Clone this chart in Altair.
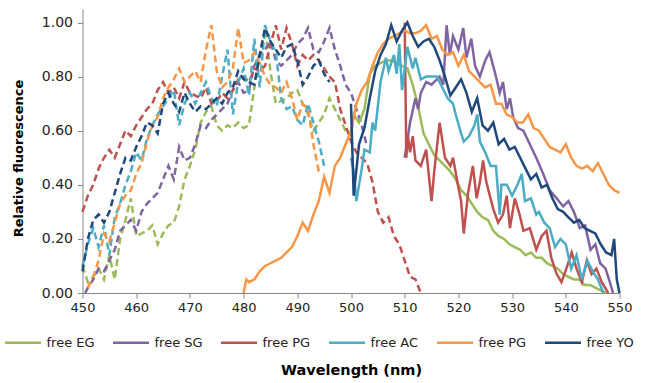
import altair as alt
import pandas as pd

KEYS = ["EG", "SG", "PG", "AC", "PG2", "YO"]
COLORS = ["#9BBB59", "#8064A2", "#C0504D", "#4BACC6", "#F79646", "#1F497D"]

# ---------------- excitation spectra (dashed) ----------------
EG_ex_wl = list(range(450, 501))
EG_ex = [0.10, 0.04, 0.06, 0.09, 0.05, 0.14, 0.05, 0.20, 0.27, 0.35,
         0.21, 0.22, 0.23, 0.25, 0.18, 0.22, 0.25, 0.26, 0.32, 0.42,
         0.47, 0.53, 0.63, 0.67, 0.69, 0.62, 0.60, 0.62, 0.61, 0.63,
         0.61, 0.62, 0.76, 0.88, 0.98, 0.82, 0.70, 0.71, 0.72, 0.74,
         0.75, 0.70, 0.66, 0.60, 0.63, 0.66, 0.72, 0.68, 0.64, 0.60, 0.58]

SG_ex_wl = [450.5] + list(range(451, 504))
SG_ex = [0.0, 0.02, 0.05, 0.09, 0.08, 0.12, 0.16, 0.23, 0.25, 0.27,
         0.23, 0.30, 0.33, 0.35, 0.37, 0.42, 0.47, 0.42, 0.54, 0.49,
         0.50, 0.55, 0.62, 0.61, 0.64, 0.66, 0.68, 0.70, 0.75, 0.78,
         0.74, 0.75, 0.84, 0.88, 0.90, 0.93, 0.86, 0.84, 0.86, 0.88,
         0.92, 0.94, 0.98, 0.90, 0.89, 0.93, 0.98, 0.90, 0.84, 0.77,
         0.74, 0.68, 0.62, 0.54]

PG_ex_wl = list(range(450, 514))
PG_ex = [0.30, 0.36, 0.40, 0.46, 0.50, 0.53, 0.50, 0.55, 0.60, 0.58,
         0.62, 0.65, 0.68, 0.70, 0.75, 0.78, 0.74, 0.76, 0.72, 0.78,
         0.74, 0.73, 0.72, 0.76, 0.70, 0.71, 0.74, 0.72, 0.75, 0.79,
         0.80, 0.78, 0.83, 0.82, 0.84, 0.92, 0.99, 0.90, 0.98, 0.92,
         0.84, 0.88, 0.86, 0.88, 0.86, 0.83, 0.80, 0.78, 0.68, 0.62,
         0.56, 0.52, 0.50, 0.48, 0.41, 0.30, 0.26, 0.28, 0.21, 0.18,
         0.12, 0.06, 0.05, 0.0]

AC_ex_wl = list(range(450, 496))
AC_ex = [0.10, 0.18, 0.24, 0.17, 0.25, 0.14, 0.28, 0.33, 0.40, 0.45,
         0.52, 0.49, 0.57, 0.62, 0.66, 0.69, 0.72, 0.75, 0.62, 0.70,
         0.74, 0.70, 0.74, 0.78, 0.72, 0.69, 0.80, 0.90, 0.66, 0.78,
         0.83, 0.73, 0.94, 0.76, 0.99, 0.93, 0.89, 0.72, 0.68, 0.69,
         0.64, 0.62, 0.70, 0.63, 0.56, 0.47]

PG2_ex_wl = list(range(451, 495)) + [494.5]
PG2_ex = [0.02, 0.06, 0.12, 0.22, 0.19, 0.26, 0.33, 0.36, 0.38,
          0.44, 0.48, 0.56, 0.62, 0.65, 0.72, 0.76, 0.79, 0.83, 0.78,
          0.80, 0.82, 0.78, 0.90, 0.99, 0.82, 0.76, 0.78, 0.83, 0.98,
          0.85, 0.86, 0.89, 0.85, 0.80, 0.77, 0.76, 0.74, 0.78, 0.72,
          0.64, 0.70, 0.68, 0.55, 0.45, 0.44]

YO_ex_wl = list(range(450, 497))
YO_ex = [0.08, 0.20, 0.27, 0.29, 0.26, 0.30, 0.37, 0.44, 0.50, 0.49,
         0.54, 0.58, 0.63, 0.62, 0.59, 0.70, 0.74, 0.70, 0.67, 0.74,
         0.70, 0.67, 0.69, 0.68, 0.70, 0.72, 0.70, 0.74, 0.76, 0.82,
         0.79, 0.78, 0.77, 0.88, 0.98, 0.93, 0.90, 0.87, 0.91, 0.92,
         0.86, 0.77, 0.80, 0.84, 0.86, 0.81, 0.78]

# ---------------- emission spectra (solid) ----------------
EG_em_wl = [500] + [500.5 + k for k in range(48)]
EG_em = [0.58,
         0.66, 0.63, 0.68, 0.81, 0.84, 0.85, 0.86, 0.86, 0.85, 0.84,
         0.83, 0.77, 0.69, 0.59, 0.55, 0.51, 0.49, 0.47, 0.45, 0.42,
         0.38, 0.36, 0.33, 0.30, 0.28, 0.27, 0.23, 0.21, 0.20, 0.18,
         0.17, 0.16, 0.14, 0.15, 0.13, 0.13, 0.11, 0.10, 0.09, 0.07,
         0.06, 0.05, 0.05, 0.03, 0.03, 0.02, 0.01, 0.0]

SG_em_wl = [510, 511, 512, 512.5, 513, 514, 515, 516.5, 517.2, 517.8,
            518.4, 519, 520, 520.9, 521.5, 522.4, 523.1, 524, 525, 525.8,
            527, 527.7, 528.3, 529, 529.6, 530.2, 531.1, 532.1, 533.3, 534.5,
            535.8, 536.4, 537, 538.3, 539.5, 540.5, 541.5, 542.6, 543.6, 544.6,
            545.5, 546.4, 547.4, 548.2, 548.8]
SG_em = [0.50, 0.63, 0.72, 0.68, 0.74, 0.78, 0.77, 0.80, 0.77, 0.99,
         0.88, 0.95, 0.90, 0.98, 0.87, 0.94, 0.84, 0.80, 0.86, 0.89,
         0.80, 0.74, 0.78, 0.68, 0.72, 0.65, 0.61, 0.60, 0.55, 0.50,
         0.44, 0.41, 0.38, 0.35, 0.32, 0.34, 0.30, 0.24, 0.25, 0.16,
         0.18, 0.11, 0.09, 0.04, 0.0]

PG_em_wl = [510, 510.3, 510.6, 511, 511.5, 512, 513, 514, 515, 515.5,
            516.5, 517.5, 518.5, 519, 520, 520.5, 521, 521.8, 522.7, 523.4,
            524, 524.6, 525.2, 526.5, 527.4, 528.3, 529, 529.6, 530.5, 531.4,
            532.1, 533.3, 534.5, 535.5, 536.4, 537.3, 538.3, 539.2, 540.1, 541.1,
            542, 543, 543.9, 544.8, 545.7, 546.7, 547.9]
PG_em = [1.0, 0.50, 0.58, 0.52, 0.58, 0.49, 0.47, 0.53, 0.34, 0.45,
         0.63, 0.50, 0.47, 0.50, 0.39, 0.34, 0.22, 0.37, 0.47, 0.35,
         0.41, 0.49, 0.41, 0.31, 0.26, 0.29, 0.36, 0.24, 0.35, 0.29,
         0.23, 0.24, 0.16, 0.21, 0.23, 0.13, 0.07, 0.04, 0.09, 0.15,
         0.09, 0.04, 0.12, 0.07, 0.09, 0.04, 0.0]

AC_em_wl = [500, 500.5, 501, 502, 502.5, 503.5, 504, 504.5, 505.5, 506.5,
            507, 508, 508.5, 509, 509.5, 510.5, 511.5, 512, 513, 514,
            515, 516, 517, 518, 519, 519.5, 520.5, 521, 522, 523,
            523.5, 524, 525, 526, 527, 527.7, 528, 529, 530, 531,
            531.8, 532.4, 533.5, 534.5, 535, 536, 537, 538, 539, 540,
            541, 542, 543, 544, 545, 546, 547]
AC_em = [0.50, 0.45, 0.34, 0.46, 0.53, 0.52, 0.63, 0.60, 0.78, 0.87,
         0.82, 0.88, 0.81, 0.92, 0.75, 0.91, 0.83, 0.87, 0.79, 0.80,
         0.80, 0.80, 0.76, 0.72, 0.70, 0.66, 0.59, 0.56, 0.58, 0.62,
         0.66, 0.56, 0.52, 0.47, 0.47, 0.29, 0.40, 0.40, 0.36, 0.40,
         0.44, 0.34, 0.35, 0.29, 0.30, 0.26, 0.24, 0.17, 0.20, 0.18,
         0.09, 0.14, 0.05, 0.12, 0.08, 0.05, 0.0]

PG2_em_wl = [480, 480.5] + list(range(481, 551))
PG2_em = [0.0, 0.05,
          0.04, 0.05, 0.08, 0.10, 0.11, 0.12, 0.13, 0.15, 0.17, 0.21,
          0.26, 0.23, 0.29, 0.34, 0.43, 0.37, 0.47, 0.50, 0.55, 0.60,
          0.70, 0.75, 0.78, 0.84, 0.89, 0.92, 0.94, 0.95, 0.96, 0.97,
          0.96, 0.96, 0.97, 0.99, 0.94, 0.95, 0.90, 0.88, 0.89, 0.84,
          0.88, 0.82, 0.80, 0.78, 0.76, 0.77, 0.70, 0.70, 0.66, 0.65,
          0.63, 0.63, 0.66, 0.61, 0.60, 0.57, 0.54, 0.53, 0.52, 0.55,
          0.50, 0.47, 0.46, 0.47, 0.45, 0.48, 0.44, 0.40, 0.38, 0.37]

YO_em_wl = [500, 500.5] + [501.5 + k for k in range(48)] + [549, 549.5, 550]
YO_em = [0.70, 0.36,
         0.55, 0.61, 0.72, 0.82, 0.88, 0.92, 0.99, 0.93, 0.97, 1.0,
         0.95, 0.91, 0.93, 0.94, 0.91, 0.86, 0.80, 0.73, 0.76, 0.79,
         0.74, 0.67, 0.72, 0.62, 0.60, 0.63, 0.55, 0.57, 0.53, 0.54,
         0.50, 0.46, 0.42, 0.44, 0.39, 0.40, 0.35, 0.31, 0.30, 0.28,
         0.26, 0.27, 0.24, 0.23, 0.22, 0.18, 0.15, 0.14,
         0.20, 0.05, 0.0]

SERIES = [
    ("EG", "ex", EG_ex_wl, EG_ex), ("SG", "ex", SG_ex_wl, SG_ex),
    ("PG", "ex", PG_ex_wl, PG_ex), ("AC", "ex", AC_ex_wl, AC_ex),
    ("PG2", "ex", PG2_ex_wl, PG2_ex), ("YO", "ex", YO_ex_wl, YO_ex),
    ("EG", "em", EG_em_wl, EG_em), ("SG", "em", SG_em_wl, SG_em),
    ("PG", "em", PG_em_wl, PG_em), ("AC", "em", AC_em_wl, AC_em),
    ("PG2", "em", PG2_em_wl, PG2_em), ("YO", "em", YO_em_wl, YO_em),
]

rows = []
for dye, kind, wls, vals in SERIES:
    n = min(len(wls), len(vals))
    for i in range(n):
        rows.append({"dye": dye, "kind": kind, "wl": wls[i], "val": vals[i]})
df = pd.DataFrame(rows)

FONT = "DejaVu Sans"

x = alt.X("wl:Q",
          scale=alt.Scale(domain=[450, 550], nice=False, zero=False),
          axis=alt.Axis(values=list(range(450, 551, 10)), format="d",
                        title="Wavelength (nm)", grid=False, tickSize=5,
                        labelPadding=3, titlePadding=49, labelFlush=False,
                        domainColor="#868686", tickColor="#868686",
                        labelFont=FONT, labelFontSize=13, labelColor="#222222",
                        titleFont=FONT, titleFontSize=14.5, titleFontWeight="bold",
                        titleColor="#000000"))
y = alt.Y("val:Q",
          scale=alt.Scale(domain=[0, 1.05], nice=False),
          axis=alt.Axis(values=[0, 0.2, 0.4, 0.6, 0.8, 1.0], format=".2f",
                        title="Relative fluorescence", grid=False, tickSize=5,
                        labelPadding=5, titlePadding=16, titleY=149,
                        domainColor="#868686", tickColor="#868686",
                        labelFont=FONT, labelFontSize=14, labelColor="#222222",
                        titleFont=FONT, titleFontSize=13, titleFontWeight="bold",
                        titleColor="#000000"))
color = alt.Color("dye:N",
                  scale=alt.Scale(domain=KEYS, range=COLORS),
                  sort=KEYS,
                  legend=alt.Legend(
                      title=None, orient="none", direction="horizontal",
                      legendX=-79, legendY=314,
                      symbolType="stroke", symbolSize=1300,
                      symbolStrokeWidth=2.5, symbolDash=[1, 0],
                      labelOffset=4, columnPadding=12, gridAlign="all",
                      labelFont=FONT, labelFontSize=13, labelColor="#222222",
                      labelExpr="datum.value == 'PG2' ? 'free PG' : 'free ' + datum.value"))

base = alt.Chart(df)
dashed = base.transform_filter(alt.datum.kind == "ex").mark_line(
    strokeWidth=2.5, strokeDash=[7, 4]).encode(x=x, y=y, color=color, order=alt.Order("wl:Q"))
solid = base.transform_filter(alt.datum.kind == "em").mark_line(
    strokeWidth=2.5).encode(x=x, y=y, color=color, order=alt.Order("wl:Q"))

chart = alt.layer(dashed, solid).properties(
    width=537, height=284,
    background="white",
    autosize=alt.AutoSizeParams(type="none"),
    padding={"left": 82.5, "top": 9, "right": 27.5, "bottom": 90},
).configure_view(stroke=None)

chart.save("out.html", embed_options={"renderer": "svg", "actions": False})
